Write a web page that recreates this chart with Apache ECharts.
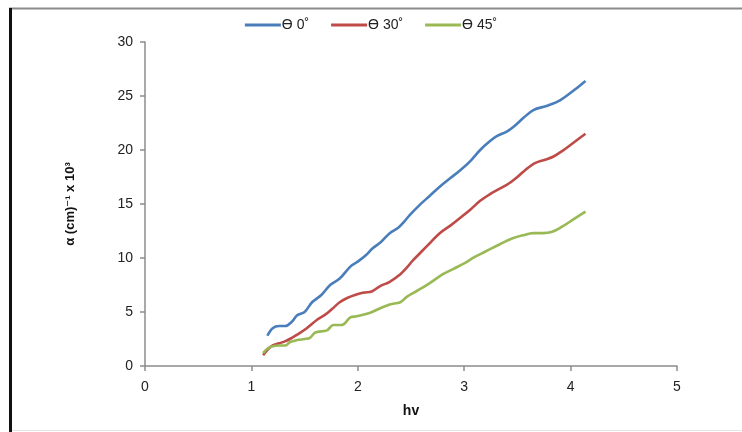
<!DOCTYPE html>
<html>
<head>
<meta charset="utf-8">
<script src="https://cdn.jsdelivr.net/npm/echarts@6/dist/echarts.min.js"></script>
<style>
  html, body { margin: 0; padding: 0; background: #fff; }
  #chart { width: 742px; height: 432px; }
</style>
</head>
<body>
<div id="chart"></div>
<script>
// Photon energy (hv) vs absorption coefficient for three incidence angles
const seriesNames = ['ϴ 0˚', 'ϴ 30˚', 'ϴ 45˚'];

const hv0 = [1.15, 1.20, 1.26, 1.32, 1.38, 1.43, 1.50, 1.57, 1.66, 1.74, 1.83, 1.93, 1.99, 2.07, 2.14, 2.22, 2.30, 2.38, 2.43, 2.49, 2.58, 2.67, 2.77, 2.87, 2.96, 3.06, 3.15, 3.24, 3.31, 3.40, 3.47, 3.56, 3.65, 3.78, 3.90, 4.04, 4.14];
const alpha0 = [2.8, 3.5, 3.7, 3.7, 4.1, 4.7, 5.0, 5.9, 6.6, 7.5, 8.1, 9.2, 9.6, 10.2, 10.9, 11.5, 12.3, 12.8, 13.3, 14.0, 14.9, 15.7, 16.6, 17.4, 18.1, 19.0, 20.0, 20.8, 21.3, 21.7, 22.2, 23.0, 23.7, 24.1, 24.6, 25.6, 26.4];

const hv30 = [1.11, 1.16, 1.20, 1.26, 1.32, 1.38, 1.43, 1.52, 1.62, 1.70, 1.76, 1.83, 1.90, 1.98, 2.06, 2.13, 2.21, 2.30, 2.40, 2.46, 2.52, 2.60, 2.68, 2.77, 2.87, 2.96, 3.06, 3.15, 3.24, 3.33, 3.42, 3.50, 3.58, 3.67, 3.76, 3.84, 3.92, 4.03, 4.14];
const alpha30 = [1.0, 1.6, 1.9, 2.1, 2.3, 2.6, 2.9, 3.5, 4.3, 4.8, 5.3, 5.9, 6.3, 6.6, 6.8, 6.9, 7.4, 7.8, 8.5, 9.1, 9.8, 10.6, 11.4, 12.3, 13.0, 13.7, 14.5, 15.3, 15.9, 16.4, 16.9, 17.5, 18.2, 18.8, 19.1, 19.4, 19.9, 20.7, 21.5];

const hv45 = [1.11, 1.15, 1.19, 1.26, 1.32, 1.36, 1.43, 1.50, 1.55, 1.60, 1.71, 1.77, 1.85, 1.93, 1.99, 2.11, 2.20, 2.30, 2.40, 2.46, 2.51, 2.60, 2.68, 2.80, 2.90, 3.00, 3.10, 3.20, 3.34, 3.45, 3.55, 3.65, 3.74, 3.82, 3.92, 4.03, 4.14];
const alpha45 = [1.2, 1.6, 1.8, 1.9, 1.9, 2.2, 2.4, 2.5, 2.6, 3.1, 3.3, 3.8, 3.8, 4.5, 4.6, 4.9, 5.3, 5.7, 5.9, 6.4, 6.7, 7.2, 7.7, 8.5, 9.0, 9.5, 10.1, 10.6, 11.3, 11.8, 12.1, 12.3, 12.3, 12.4, 12.9, 13.6, 14.3];

const colors = ['#4A7EBB', '#BE4B48', '#98B954'];

function pairs(xs, ys) { return xs.map((x, i) => [x, ys[i]]); }

const chart = echarts.init(document.getElementById('chart'), null, { renderer: 'canvas' });
const fontFamily = '"Liberation Sans", "DejaVu Sans", sans-serif';

chart.setOption({
  animation: false,
  backgroundColor: '#fff',
  color: colors,
  textStyle: { fontFamily: fontFamily },
  legend: {
    top: 13,
    left: 'center',
    itemWidth: 36,
    itemHeight: 3,
    itemGap: 22,
    icon: 'rect',
    textStyle: { fontSize: 14, color: '#222', padding: [0, 0, 0, -4] },
    data: seriesNames
  },
  grid: { left: 145, right: 65, top: 42, bottom: 66, containLabel: false },
  xAxis: {
    type: 'value',
    min: 0, max: 5, interval: 1,
    name: 'hv',
    nameLocation: 'middle',
    nameGap: 38,
    nameTextStyle: { fontSize: 14, fontWeight: 'bold', color: '#111' },
    axisLine: { show: true, lineStyle: { color: '#8c8c8c', width: 1.5 } },
    axisTick: { show: true, length: 5, lineStyle: { color: '#8c8c8c', width: 1.5 } },
    axisLabel: { fontSize: 14, color: '#222', margin: 14 },
    splitLine: { show: false }
  },
  yAxis: {
    type: 'value',
    min: 0, max: 30, interval: 5,
    name: 'α (cm)⁻¹ x 10³',
    nameLocation: 'middle',
    nameGap: 68,
    nameRotate: 90,
    nameTextStyle: { fontSize: 13, fontWeight: 'bold', color: '#111' },
    axisLine: { show: true, lineStyle: { color: '#8c8c8c', width: 1.5 } },
    axisTick: { show: true, length: 5, lineStyle: { color: '#8c8c8c', width: 1.5 } },
    axisLabel: { fontSize: 14, color: '#222', margin: 12 },
    splitLine: { show: false }
  },
  series: [
    { name: seriesNames[0], type: 'line', data: pairs(hv0, alpha0) },
    { name: seriesNames[1], type: 'line', data: pairs(hv30, alpha30) },
    { name: seriesNames[2], type: 'line', data: pairs(hv45, alpha45) }
  ].map(s => Object.assign(s, {
    smooth: 0.35,
    showSymbol: false,
    lineStyle: { width: 2.6 }
  })),
  graphic: [
    { type: 'line', shape: { x1: 9, y1: 8.5, x2: 742, y2: 8.5 }, style: { stroke: '#8a8a8a', lineWidth: 2 } },
    { type: 'line', shape: { x1: 10.5, y1: 8, x2: 10.5, y2: 432 }, style: { stroke: '#111', lineWidth: 3 } },
    { type: 'line', shape: { x1: 12, y1: 430.5, x2: 742, y2: 430.5 }, style: { stroke: '#e4e4e4', lineWidth: 1 } }
  ]
});
</script>
</body>
</html>
